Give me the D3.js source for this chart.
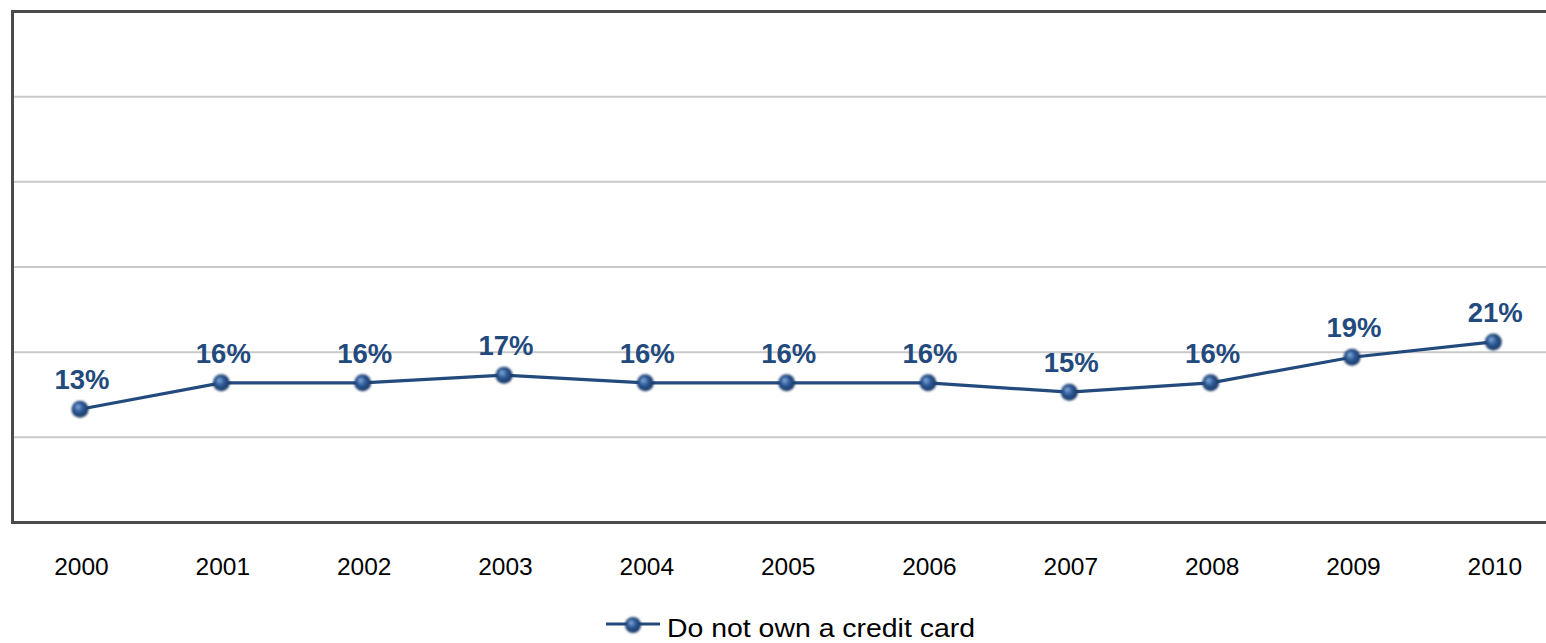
<!DOCTYPE html>
<html>
<head>
<meta charset="utf-8">
<script src="https://cdn.jsdelivr.net/npm/d3@7"></script>
<style>
  body { margin: 0; background: #fff; }
  svg { display: block; font-family: "Liberation Sans", Arial, sans-serif; }
</style>
</head>
<body>
<div id="chart"></div>
<script>
// Data
const years = ["2000", "2001", "2002", "2003", "2004", "2005", "2006", "2007", "2008", "2009", "2010"];
const noCard = [13.3, 16.4, 16.4, 17.3, 16.4, 16.4, 16.4, 15.3, 16.4, 19.4, 21.2];
const yTicks = [0, 10, 20, 30, 40, 50, 60];
const seriesName = "Do not own a credit card";

const width = 1546, height = 643;
const plotLeft = 12.5, plotTop = 11.5, plotBottom = 522.5;

const svg = d3.select("#chart").append("svg")
  .attr("width", width)
  .attr("height", height);

// marker gradient
const defs = svg.append("defs");
const grad = defs.append("radialGradient")
  .attr("id", "dot")
  .attr("cx", "50%").attr("cy", "50%").attr("r", "55%")
  .attr("fx", "35%").attr("fy", "32%");
grad.append("stop").attr("offset", "0%").attr("stop-color", "#8db3e2");
grad.append("stop").attr("offset", "45%").attr("stop-color", "#2e5c9a");
grad.append("stop").attr("offset", "100%").attr("stop-color", "#142e55");
defs.append("filter").attr("id", "soft")
  .append("feGaussianBlur").attr("stdDeviation", 0.8);

// scales
const x = d3.scalePoint().domain(years).range([80, 1493.3]);
const y = d3.scaleLinear().domain([0, 60]).range([plotBottom, plotTop]);

// gridlines
svg.append("g")
  .selectAll("line")
  .data(yTicks.filter((t) => t > 0 && t < 60))
  .join("line")
  .attr("x1", plotLeft).attr("x2", width)
  .attr("y1", (d) => y(d)).attr("y2", (d) => y(d))
  .attr("stroke", "#c9c9c9")
  .attr("stroke-width", 2);

// frame: top, left, bottom
svg.append("path")
  .attr("d", `M${width},${y(60)}H${plotLeft}V${y(0)}H${width}`)
  .attr("fill", "none")
  .attr("stroke", "#4b4b4b")
  .attr("stroke-width", 3);

// x labels
svg.append("g")
  .selectAll("text")
  .data(years)
  .join("text")
  .attr("x", (d) => x(d) + 1.5)
  .attr("y", 574.5)
  .attr("text-anchor", "middle")
  .attr("font-size", 24.5)
  .attr("fill", "#000")
  .text((d) => d);

// line
const line = d3.line()
  .x((d, i) => x(years[i]))
  .y((d) => y(d));

svg.append("path")
  .datum(noCard)
  .attr("d", line)
  .attr("fill", "none")
  .attr("stroke", "#234a7d")
  .attr("stroke-width", 3.2);

// markers
svg.append("g")
  .selectAll("circle")
  .data(noCard)
  .join("circle")
  .attr("cx", (d, i) => x(years[i]))
  .attr("cy", (d) => y(d))
  .attr("r", 8.5)
  .attr("fill", "url(#dot)")
  .attr("filter", "url(#soft)");

// value labels
svg.append("g")
  .selectAll("text")
  .data(noCard)
  .join("text")
  .attr("x", (d, i) => x(years[i]) + 2)
  .attr("y", (d) => y(d) - 20)
  .attr("text-anchor", "middle")
  .attr("font-size", 27.5)
  .attr("font-weight", "bold")
  .attr("fill", "#234a7d")
  .text((d) => Math.round(d) + "%");

// legend
const lg = svg.append("g").attr("transform", "translate(606,624)");
lg.append("line")
  .attr("x1", 0).attr("x2", 54)
  .attr("stroke", "#234a7d")
  .attr("stroke-width", 3);
lg.append("circle")
  .attr("cx", 27).attr("cy", 1).attr("r", 8)
  .attr("fill", "url(#dot)")
  .attr("filter", "url(#soft)");
lg.append("text")
  .attr("x", 61)
  .attr("y", 13)
  .attr("font-size", 25)
  .attr("fill", "#000")
  .attr("textLength", 308)
  .attr("lengthAdjust", "spacingAndGlyphs")
  .text(seriesName);
</script>
</body>
</html>
